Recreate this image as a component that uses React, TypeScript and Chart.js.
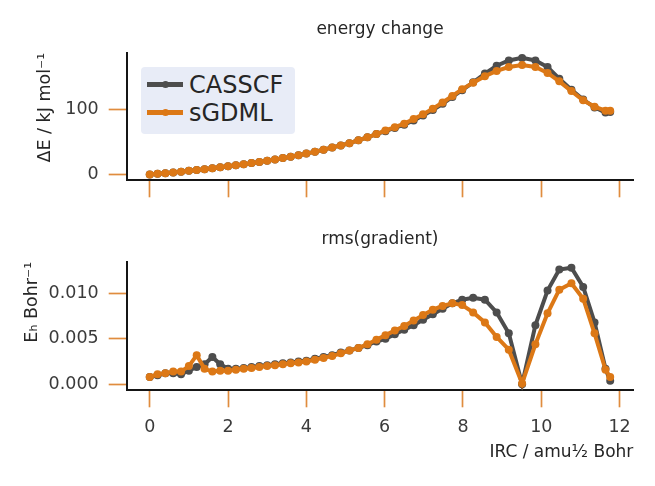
import { useEffect, useRef } from 'react';
import { Chart, ChartConfiguration, registerables } from 'chart.js';

Chart.register(...registerables);

// IRC coordinate of every point, amu^1/2 Bohr
const irc = [
  0, 0.2, 0.4, 0.6, 0.8, 1.0, 1.2, 1.4, 1.6, 1.8,
  2.0, 2.2, 2.4, 2.6, 2.8, 3.0, 3.2, 3.4, 3.6, 3.8,
  4.0, 4.22, 4.44, 4.66, 4.88, 5.1, 5.33, 5.56, 5.79, 6.02,
  6.26, 6.5, 6.74, 6.98, 7.23, 7.48, 7.73, 7.98, 8.26, 8.56,
  8.86, 9.17, 9.51, 9.85, 10.16, 10.46, 10.77, 11.07, 11.36, 11.64,
  11.76,
];

// energy change, kJ/mol
const energyCasscf = [
  0, 1.0, 2.0, 3.1, 4.3, 5.5, 6.8, 8.1, 9.5, 11.0,
  12.5, 14.1, 15.7, 17.4, 19.2, 21.0, 23.0, 25.1, 27.3, 29.6,
  32.0, 35.0, 38.0, 41.5, 44.5, 48.0, 52.5, 57.0, 62.0, 66.5,
  71.5, 76.5, 83.0, 90.5, 99.0, 108.5, 119.0, 129.5, 141.5, 155.0,
  167.0, 175.0, 179.0, 175.0, 165.0, 147.0, 130.0, 115.0, 103.0, 95.0,
  96.0,
];
const energySgdml = [
  0, 1.0, 2.0, 3.1, 4.3, 5.5, 6.8, 8.1, 9.5, 11.0,
  12.5, 14.1, 15.7, 17.4, 19.2, 21.0, 23.0, 25.1, 27.3, 29.6,
  32.0, 35.0, 38.0, 41.5, 44.5, 48.0, 52.5, 57.0, 62.0, 67.5,
  72.5, 78.0, 85.0, 92.5, 101.0, 110.5, 120.5, 131.0, 141.0, 151.0,
  159.0, 165.0, 168.0, 165.0, 156.0, 143.0, 128.0, 114.0, 104.0, 98.0,
  98.0,
];

// rms(gradient), Eh/Bohr
const gradCasscf = [
  0.0008, 0.0010, 0.0012, 0.0012, 0.0011, 0.0015, 0.0019, 0.0022, 0.0030, 0.0022,
  0.0017, 0.0017, 0.0018, 0.0019, 0.0020, 0.0021, 0.0022, 0.0023, 0.0024, 0.0025,
  0.0026, 0.0028, 0.0030, 0.0032, 0.0035, 0.0037, 0.0040, 0.0043, 0.0047, 0.0050,
  0.0055, 0.0060, 0.0065, 0.0071, 0.0077, 0.0083, 0.0089, 0.0093, 0.0095, 0.0093,
  0.0079, 0.0056, 0.0000, 0.0065, 0.0103, 0.0126, 0.0128, 0.0107, 0.0068, 0.0017,
  0.0004,
];
const gradSgdml = [
  0.0008, 0.0011, 0.0012, 0.0014, 0.0014, 0.0020, 0.0032, 0.0017, 0.0014, 0.0015,
  0.0015, 0.0016, 0.0017, 0.0018, 0.0019, 0.0020, 0.0021, 0.0022, 0.0023, 0.0024,
  0.0025, 0.0027, 0.0029, 0.0031, 0.0034, 0.0037, 0.0040, 0.0044, 0.0049, 0.0054,
  0.0059, 0.0064, 0.0070, 0.0076, 0.0082, 0.0086, 0.0089, 0.0087, 0.0079, 0.0068,
  0.0052, 0.0038, 0.0001, 0.0044, 0.0078, 0.0104, 0.0111, 0.0094, 0.0056, 0.0016,
  0.0008,
];

const seriesNames = ['CASSCF', 'sGDML'];
const ircTicks = [0, 2, 4, 6, 8, 10, 12];
const energyTicks = [0, 100];
const gradTicks = [0, 0.005, 0.01];

const GREY = '#4d4d4d';
const ORANGE = '#dc7816';
const TICK = '#e08c3e';
const FONT = 'DejaVu Sans';

const W = 655;
const AREA_LEFT = 126.7;
const AREA_RIGHT = 633.3;

type PanelSpec = {
  title: string;
  titleCenter: number; // px from canvas top
  height: number;
  areaTop: number;
  areaBottom: number;
  casscf: number[];
  sgdml: number[];
  yMin: number;
  yMax: number;
  yTicks: number[];
  yDigits: number;
  yLabel: string;
  yLabelCenterX: number;
  xLabels: boolean;
};

function makeConfig(p: PanelSpec): ChartConfiguration<'line'> {
  const pts = (ys: number[]) => irc.map((x, i) => ({ x, y: ys[i] }));
  const line = (label: string, ys: number[], color: string, order: number) => ({
    label,
    data: pts(ys),
    borderColor: color,
    backgroundColor: color,
    borderWidth: 4,
    pointRadius: 4,
    pointBorderWidth: 0,
    tension: 0,
    order,
  });

  return {
    type: 'line',
    data: {
      datasets: [
        line(seriesNames[0], p.casscf, GREY, 1),
        line(seriesNames[1], p.sgdml, ORANGE, 0),
      ],
    },
    options: {
      responsive: false,
      animation: false,
      events: [],
      layout: { padding: { left: 0, top: 0, right: W - AREA_RIGHT, bottom: 0 } },
      plugins: {
        legend: { display: false },
        tooltip: { enabled: false },
        title: {
          display: true,
          text: p.title,
          fullSize: false,
          color: '#262626',
          font: { family: FONT, size: 17, weight: 'normal', lineHeight: 1.2 },
          padding: {
            top: p.titleCenter - 10.2,
            bottom: p.areaTop - (p.titleCenter - 10.2) - 20.4,
          },
        },
      },
      scales: {
        x: {
          type: 'linear',
          min: -0.588,
          max: 12.35,
          afterBuildTicks: (s) => {
            s.ticks = ircTicks.map((value) => ({ value }));
          },
          afterFit: (s) => {
            s.height = p.height - p.areaBottom;
          },
          ticks: {
            display: p.xLabels,
            padding: 10,
            color: '#3a3a3a',
            font: { family: FONT, size: 17.5 },
            callback: (v) => String(v),
          },
          grid: {
            drawOnChartArea: false,
            drawTicks: true,
            tickLength: 17,
            tickColor: TICK,
            tickWidth: 1.7,
          },
          border: { display: true, color: '#151515', width: 2 },
          title: {
            display: p.xLabels,
            text: 'IRC / amu½ Bohr',
            align: 'end',
            color: '#262626',
            font: { family: FONT, size: 17 },
            padding: { top: 4, bottom: 22.8 },
          },
        },
        y: {
          type: 'linear',
          min: p.yMin,
          max: p.yMax,
          afterBuildTicks: (s) => {
            s.ticks = p.yTicks.map((value) => ({ value }));
          },
          afterFit: (s) => {
            s.width = AREA_LEFT;
          },
          ticks: {
            padding: 10,
            color: '#3a3a3a',
            font: { family: FONT, size: 17.5 },
            callback: (v) => Number(v).toFixed(p.yDigits),
          },
          grid: {
            drawOnChartArea: false,
            drawTicks: true,
            tickLength: 18,
            tickColor: TICK,
            tickWidth: 1.7,
          },
          border: { display: true, color: '#151515', width: 2 },
          title: {
            display: true,
            text: p.yLabel,
            align: 'end',
            color: '#262626',
            font: { family: FONT, size: 17.5 },
            padding: { top: p.yLabelCenterX - 10.5, bottom: 0 },
          },
        },
      },
    },
  };
}

const energyPanel: PanelSpec = {
  title: 'energy change',
  titleCenter: 30,
  height: 215,
  areaTop: 52.7,
  areaBottom: 180.3,
  casscf: energyCasscf,
  sgdml: energySgdml,
  yMin: -9,
  yMax: 187,
  yTicks: energyTicks,
  yDigits: 0,
  yLabel: 'ΔE / kJ mol⁻¹',
  yLabelCenterX: 45.5,
  xLabels: false,
};

const gradientPanel: PanelSpec = {
  title: 'rms(gradient)',
  titleCenter: 25,
  height: 271,
  areaTop: 46.7,
  areaBottom: 175.3,
  casscf: gradCasscf,
  sgdml: gradSgdml,
  yMin: -0.00066,
  yMax: 0.01347,
  yTicks: gradTicks,
  yDigits: 3,
  yLabel: 'Eₕ Bohr⁻¹',
  yLabelCenterX: 32,
  xLabels: true,
};

function Panel({ spec }: { spec: PanelSpec }) {
  const canvasRef = useRef<HTMLCanvasElement | null>(null);

  useEffect(() => {
    const canvas = canvasRef.current;
    if (!canvas) return undefined;
    const chart = new Chart(canvas, makeConfig(spec));
    return () => chart.destroy();
  }, [spec]);

  return <canvas ref={canvasRef} width={W} height={spec.height} style={{ display: 'block' }} />;
}

function Legend() {
  const colors = [GREY, ORANGE];
  return (
    <div
      style={{
        position: 'absolute',
        left: 141,
        top: 66.7,
        width: 154,
        height: 67.6,
        background: '#e8ecf7',
        borderRadius: 4,
        fontFamily: FONT,
      }}
    >
      {seriesNames.map((name, i) => (
        <div key={name} style={{ position: 'absolute', left: 0, top: 18.3 + i * 27.7, width: '100%' }}>
          <div
            style={{
              position: 'absolute',
              left: 6,
              top: -2.5,
              width: 36,
              height: 5,
              background: colors[i],
            }}
          />
          <div
            style={{
              position: 'absolute',
              left: 20.5,
              top: -3.5,
              width: 7,
              height: 7,
              borderRadius: '50%',
              background: colors[i],
            }}
          />
          <span
            style={{
              position: 'absolute',
              left: 48,
              top: -14,
              fontSize: 24,
              lineHeight: '28px',
              color: '#262626',
              whiteSpace: 'nowrap',
            }}
          >
            {name}
          </span>
        </div>
      ))}
    </div>
  );
}

export default function App() {
  return (
    <div style={{ position: 'absolute', left: 0, top: 0, width: W, height: 486, background: '#fff' }}>
      <Panel spec={energyPanel} />
      <Panel spec={gradientPanel} />
      <Legend />
    </div>
  );
}
